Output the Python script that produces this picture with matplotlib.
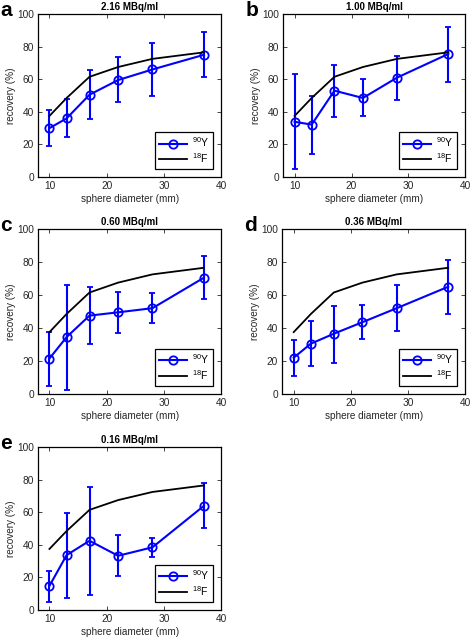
import numpy as np
import matplotlib
matplotlib.use("Agg")
import matplotlib.pyplot as plt

# sphere diameters (mm)
diametre = [10, 13, 17, 22, 28, 37]

# 18F reference recovery (%)
f18 = [37.5, 48.5, 61.5, 67.5, 72.5, 76.5]

panel_harf = ["a", "b", "c", "d", "e"]
aktivite = ["2.16 MBq/ml", "1.00 MBq/ml", "0.60 MBq/ml", "0.36 MBq/ml", "0.16 MBq/ml"]

# 90Y recovery (%), mean with lower / upper ends of error bars
y90_a = [30.0, 36.0, 50.5, 59.5, 66.0, 75.0]
alt_a = [19.0, 24.5, 35.5, 46.0, 50.0, 61.5]
ust_a = [41.0, 48.0, 65.5, 73.5, 82.0, 89.0]

y90_b = [33.9, 32.2, 53.0, 48.5, 61.0, 75.5]
alt_b = [4.9, 14.3, 36.9, 37.5, 47.5, 58.5]
ust_b = [63.5, 49.8, 68.8, 60.0, 74.0, 92.0]

y90_c = [21.5, 34.5, 47.5, 49.5, 52.0, 70.5]
alt_c = [5.0, 2.5, 30.0, 37.0, 43.0, 57.5]
ust_c = [37.5, 66.0, 65.0, 62.0, 61.0, 83.5]

y90_d = [22.0, 30.5, 36.5, 43.5, 52.0, 65.0]
alt_d = [11.0, 17.0, 19.0, 33.5, 38.0, 48.5]
ust_d = [33.0, 44.5, 53.5, 54.0, 66.0, 81.5]

y90_e = [14.8, 33.7, 42.5, 33.3, 38.5, 64.0]
alt_e = [5.1, 7.4, 9.0, 20.7, 32.5, 50.5]
ust_e = [23.8, 59.5, 75.6, 46.0, 44.5, 78.0]

veriler = [(y90_a, alt_a, ust_a), (y90_b, alt_b, ust_b), (y90_c, alt_c, ust_c),
           (y90_d, alt_d, ust_d), (y90_e, alt_e, ust_e)]

# axes boxes in figure fractions [left, bottom, width, height]
konumlar = [
    [0.0805, 0.722, 0.388, 0.256],
    [0.600, 0.722, 0.386, 0.256],
    [0.0805, 0.3815, 0.388, 0.259],
    [0.598, 0.3815, 0.388, 0.259],
    [0.0805, 0.0424, 0.388, 0.2556],
]

plt.rcParams['font.family'] = ['Liberation Sans', 'DejaVu Sans']
plt.rcParams['mathtext.fontset'] = 'custom'
plt.rcParams['mathtext.rm'] = 'Liberation Sans'
plt.rcParams['mathtext.it'] = 'Liberation Sans:italic'
plt.rcParams['mathtext.bf'] = 'Liberation Sans:bold'

fig = plt.figure(figsize=(4.72, 6.37), dpi=100)
gri = '#262626'
mavi = '#0000ff'

for i in range(5):
    ax = fig.add_axes(konumlar[i])
    y90, alt, ust = veriler[i]
    y90 = np.array(y90)
    hata = [y90 - np.array(alt), np.array(ust) - y90]

    ax.errorbar(diametre, y90, yerr=hata, fmt='none', ecolor=mavi,
                elinewidth=1.5, capsize=2.5, capthick=1.3)
    ax.plot(diametre, y90, color=mavi, marker='o', markersize=6,
            markerfacecolor='none', markeredgewidth=1.3, linewidth=1.5,
            label=r'$^{90}$Y')
    ax.plot(diametre, f18, color='black', linewidth=1.3, label=r'$^{18}$F')

    ax.set_xlim(8, 40)
    ax.set_ylim(0, 100)
    ax.set_xticks([10, 20, 30, 40])
    ax.set_yticks([0, 20, 40, 60, 80, 100])
    ax.tick_params(direction='in', top=True, right=True, length=3,
                   labelsize=7.3, colors=gri, labelcolor=gri, width=0.6, pad=3)
    for s in ax.spines.values():
        s.set_linewidth(0.9)
    ax.set_xlabel('sphere diameter (mm)', fontsize=7.2, color=gri, labelpad=2)
    ax.set_ylabel('recovery (%)', fontsize=7.2, color=gri, labelpad=1)
    ax.set_title(aktivite[i], fontsize=7, fontweight='bold', pad=3)

    leg = ax.legend(loc='lower right', fontsize=7.5, fancybox=False,
                    framealpha=1, edgecolor='black', handlelength=2.7,
                    borderaxespad=0.8, labelspacing=0.2, handletextpad=0.5,
                    borderpad=0.35)
    leg.get_frame().set_linewidth(0.9)

    x0 = konumlar[i][0] - 0.08
    y0 = konumlar[i][1] + konumlar[i][3] + 0.006
    fig.text(x0, y0, panel_harf[i], fontsize=15, fontweight='bold',
             ha='left', va='center')

fig.savefig('out.png', dpi=100)
